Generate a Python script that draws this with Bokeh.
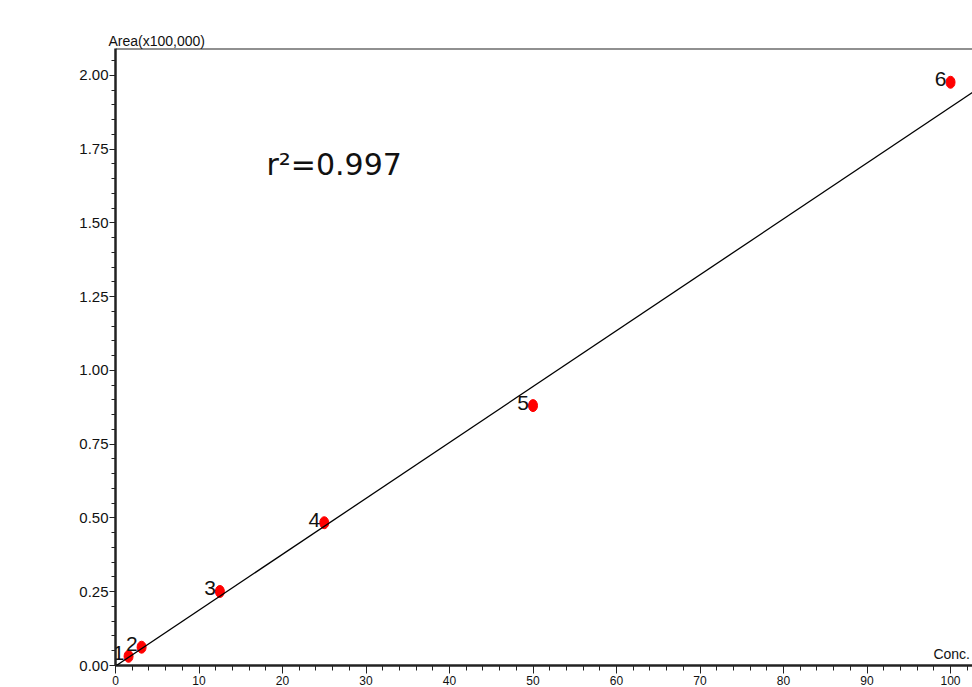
from bokeh.plotting import figure
from bokeh.models import (Range1d, FixedTicker, NumeralTickFormatter,
                          Label, Slope, Span, ColumnDataSource)
from bokeh.core.properties import value
from bokeh.embed import file_html
from bokeh.resources import INLINE

# ---- data ----
conc = [1.5625, 3.125, 12.5, 25.0, 50.0, 100.0]
area = [0.031, 0.062, 0.251, 0.484, 0.881, 1.977]
point_labels = ["1", "2", "3", "4", "5", "6"]
fit_slope = 0.01895
fit_intercept = -0.002
r2_text = "r\u00b2=0.997"
y_title = "Area(x100,000)"
x_title = "Conc."
x_ticks = [0, 10, 20, 30, 40, 50, 60, 70, 80, 90, 100]
x_minor = [v for v in range(0, 104, 2)]
y_ticks = [0.0, 0.25, 0.5, 0.75, 1.0, 1.25, 1.5, 1.75, 2.0]
y_minor = [round(v * 0.05, 2) for v in range(0, 42)]

FONT = "Liberation Sans"
X_END = 102.63
Y_END = 2.0915

p = figure(width=972, height=687, output_backend="svg", toolbar_location=None,
           x_range=Range1d(0, X_END), y_range=Range1d(0, Y_END),
           min_border_left=115, min_border_top=48, min_border_right=0,
           min_border_bottom=22, background_fill_color="white",
           border_fill_color="white")
p.grid.visible = False
p.outline_line_color = None

# title used as the y-axis caption at the top-left
p.title.text = y_title
p.title.text_font = FONT
p.title.text_font_size = "14px"
p.title.text_font_style = "normal"
p.title.text_color = "#111111"
p.title.align = "left"
p.title.offset = -7
p.title.standoff = 0

# axes
for ax in (p.xaxis[0], p.yaxis[0]):
    ax.axis_line_color = "#222222"
    ax.axis_line_width = 2.5
    ax.major_tick_line_color = "#222222"
    ax.minor_tick_line_color = "#222222"
    ax.major_tick_in = 0
    ax.minor_tick_in = 0
    ax.major_label_text_font = FONT
    ax.major_label_text_color = "#111111"

p.yaxis.ticker = FixedTicker(ticks=y_ticks, minor_ticks=y_minor)
p.yaxis.formatter = NumeralTickFormatter(format="0.00")
p.yaxis.major_tick_out = 6
p.yaxis.minor_tick_out = 4
p.yaxis.major_label_standoff = 1
p.yaxis.major_label_text_font_size = "15px"

p.xaxis.ticker = FixedTicker(ticks=x_ticks, minor_ticks=x_minor)
p.xaxis.major_tick_out = 8
p.xaxis.minor_tick_out = 5
p.xaxis.major_label_standoff = 2
p.xaxis.major_label_text_font_size = "12px"

# top frame line
p.add_layout(Span(location=Y_END, dimension="width", line_color="#222222",
                  line_width=2))

# regression line
p.add_layout(Slope(gradient=fit_slope, y_intercept=fit_intercept,
                   line_color="black", line_width=1.3))

src = ColumnDataSource(dict(x=conc, y=area, t=point_labels))
p.ellipse(x="x", y="y", width=9, height=12, width_units="screen",
          height_units="screen", source=src, fill_color="#ff0000",
          line_color="#ff0000")
p.text(x="x", y="y", text="t", source=src, text_font=value(FONT),
       text_font_size="21px", text_align="right", text_baseline="bottom",
       x_offset=-4, y_offset=4, text_color="#111111")

# r^2 annotation
p.add_layout(Label(x=18.08, y=1.698, text=r2_text, text_font="DejaVu Sans",
                   text_font_size="30px", text_color="#111111",
                   text_baseline="alphabetic"))

# x-axis caption (bottom-right corner)
p.add_layout(Label(x=X_END - 0.3, y=0.012, text=x_title, text_font=FONT,
                   text_font_size="14px", text_color="#111111",
                   text_align="right", text_baseline="bottom"))

open("out.html", "w").write(file_html(p, INLINE))
